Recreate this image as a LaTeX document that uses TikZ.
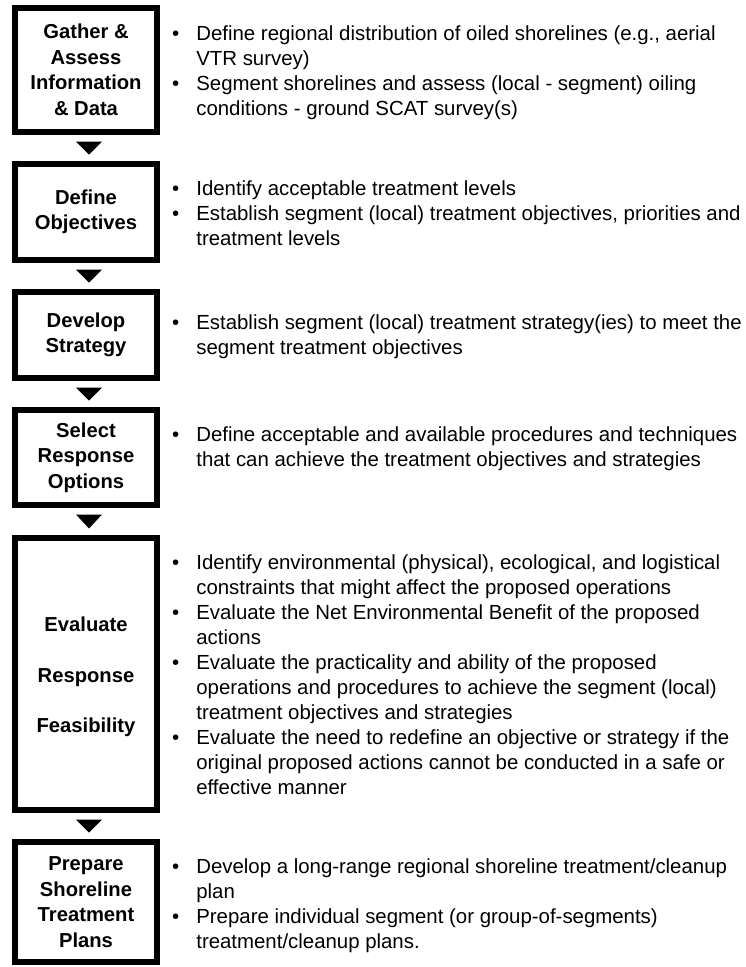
\documentclass[tikz,border=0pt]{standalone}
\usepackage{fontspec}
\setmainfont{Liberation Sans}
\usetikzlibrary{calc}
\newcommand{\bl}{\textbullet}
\newcommand{\bitems}[1]{\begin{tabular}[t]{@{}l@{\hspace{17pt}}l@{}}#1\end{tabular}}
\begin{document}
\begin{tikzpicture}[x=1pt,y=-1pt,
  box/.style={draw, line width=6pt, minimum width=142pt, inner sep=0pt,
    font=\fontsize{20.2}{25.5}\selectfont\bfseries, align=center},
  txt/.style={anchor=base west, inner sep=0pt, font=\fontsize{20.4}{25}\selectfont},
  tri/.style={fill=black}]
\useasboundingbox (0,0) rectangle (746,967);
% boxes
\node[box, minimum height=124pt] (b1) at (86,70) {Gather \&\\Assess\\Information\\\& Data};
\node[box, minimum height=96pt] (b2) at (86,212) {Define\\Objectives};
\node[box, minimum height=86pt] (b3) at (86,335) {Develop\\Strategy};
\node[box, minimum height=95pt] (b4) at (86,457.5) {Select\\Response\\Options};
\node[box, minimum height=272pt] (b5) at (86,674) {};
\node[font=\fontsize{20.2}{25.5}\selectfont\bfseries, align=center, inner sep=0pt] (b5l) at (86,677) {Evaluate\\[25pt]Response\\[25pt]Feasibility};
\node[box, minimum height=120pt] (b6) at (86,902) {Prepare\\Shoreline\\Treatment\\Plans};
% connectors (triangles)
\foreach \a/\b in {b1/b2,b2/b3,b3/b4,b4/b5,b5/b6}{
  \fill[tri] ($(\a.south)+(-10,6.5)$) -- ($(\a.south)+(16,6.5)$) -- ($(\b.north)+(3,-6.5)$) -- cycle;
}
% texts
\node[txt] (t1) at (172,40) {\bitems{\bl & Define regional distribution of oiled shorelines (e.g., aerial\\
 & VTR survey)\\
\bl & Segment shorelines and assess (local - segment) oiling\\
 & conditions - ground SCAT survey(s)}};
\node[txt] (t2) at (172,195) {\bitems{\bl & Identify acceptable treatment levels\\
\bl & Establish segment (local) treatment objectives, priorities and\\
 & treatment levels}};
\node[txt] (t3) at (172,329) {\bitems{\bl & Establish segment (local) treatment strategy(ies) to meet the\\
 & segment treatment objectives}};
\node[txt] (t4) at (172,441) {\bitems{\bl & Define acceptable and available procedures and techniques\\
 & that can achieve the treatment objectives and strategies}};
\node[txt] (t5) at (172,569) {\bitems{\bl & Identify environmental (physical), ecological, and logistical\\
 & constraints that might affect the proposed operations\\
\bl & Evaluate the Net Environmental Benefit of the proposed\\
 & actions\\
\bl & Evaluate the practicality and ability of the proposed\\
 & operations and procedures to achieve the segment (local)\\
 & treatment objectives and strategies\\
\bl & Evaluate the need to redefine an objective or strategy if the\\
 & original proposed actions cannot be conducted in a safe or\\
 & effective manner}};
\node[txt] (t6) at (172,873) {\bitems{\bl & Develop a long-range regional shoreline treatment/cleanup\\
 & plan\\
\bl & Prepare individual segment (or group-of-segments)\\
 & treatment/cleanup plans.}};
\end{tikzpicture}
\end{document}
